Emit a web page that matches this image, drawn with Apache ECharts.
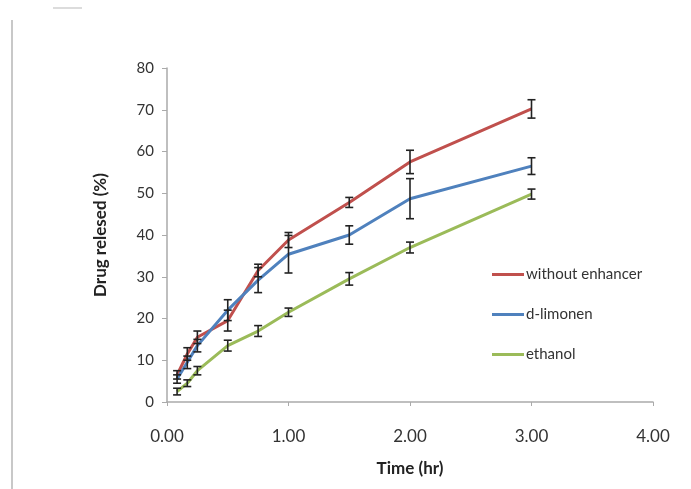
<!DOCTYPE html>
<html><head><meta charset="utf-8">
<script src="https://cdn.jsdelivr.net/npm/echarts@6/dist/echarts.min.js"></script>
<style>html,body{margin:0;padding:0;background:#fff}#c{width:691px;height:489px}</style>
</head><body><div id="c"></div>
<script>
const times = [0.083, 0.167, 0.25, 0.5, 0.75, 1.0, 1.5, 2.0, 3.0];
const seriesNames = ['without enhancer', 'd-limonen', 'ethanol'];
const withoutEnhancer = [6.5, 11.5, 15.5, 19.5, 31.5, 38.8, 47.8, 57.5, 70.2];
const dLimonen = [5.5, 9.5, 13.5, 22.0, 29.2, 35.4, 40.0, 48.7, 56.5];
const ethanol = [2.5, 4.5, 7.5, 13.5, 17.0, 21.5, 29.5, 37.0, 49.8];
const errWithout = [1.0, 1.5, 1.5, 2.5, 1.5, 1.8, 1.2, 2.8, 2.2];
const errLimonen = [1.0, 1.5, 1.5, 2.5, 3.0, 4.5, 2.2, 4.8, 2.0];
const errEthanol = [0.8, 0.8, 1.0, 1.3, 1.3, 1.0, 1.5, 1.3, 1.2];
const xTicks = ['0.00', '1.00', '2.00', '3.00', '4.00'];
const colors = ['#c0504d', '#4f81bd', '#9bbb59'];

const values = [withoutEnhancer, dLimonen, ethanol];
const errs = [errWithout, errLimonen, errEthanol];
const font = 'Lato, "Open Sans", sans-serif';

function errSeries(vals, err) {
  return {
    type: 'custom',
    silent: true,
    z: 5,
    data: times.map((t, i) => [t, vals[i] - err[i], vals[i] + err[i]]),
    renderItem: function (params, api) {
      const lo = api.coord([api.value(0), api.value(1)]);
      const hi = api.coord([api.value(0), api.value(2)]);
      const w = 4;
      const st = { stroke: '#222', lineWidth: 1.6 };
      return {
        type: 'group',
        children: [
          { type: 'line', shape: { x1: lo[0], y1: lo[1], x2: hi[0], y2: hi[1] }, style: st },
          { type: 'line', shape: { x1: lo[0] - w, y1: lo[1], x2: lo[0] + w, y2: lo[1] }, style: st },
          { type: 'line', shape: { x1: hi[0] - w, y1: hi[1], x2: hi[0] + w, y2: hi[1] }, style: st }
        ]
      };
    }
  };
}

const series = [];
values.forEach((v, k) => {
  series.push({
    name: seriesNames[k],
    type: 'line',
    data: times.map((t, i) => [t, v[i]]),
    showSymbol: false,
    symbol: 'none',
    lineStyle: { color: colors[k], width: 3 },
    itemStyle: { color: colors[k] },
    z: 3
  });
});
values.forEach((v, k) => series.push(errSeries(v, errs[k])));

const chart = echarts.init(document.getElementById('c'), null, { renderer: 'canvas' });
chart.setOption({
  animation: false,
  backgroundColor: '#fff',
  grid: { left: 167, right: 38, top: 68, bottom: 87 },
  legend: {
    orient: 'vertical',
    left: 487,
    top: 262,
    itemGap: 25,
    itemWidth: 32,
    itemHeight: 3,
    icon: 'rect',
    data: seriesNames,
    textStyle: { fontFamily: font, fontSize: 15, color: '#333', padding: [0, 0, 0, -3] }
  },
  xAxis: {
    type: 'value',
    min: 0, max: 4, interval: 1,
    name: 'Time (hr)',
    nameLocation: 'middle',
    nameGap: 58,
    nameTextStyle: { fontFamily: font, fontSize: 17, fontWeight: 'bold', color: '#222' },
    axisLine: { show: true, lineStyle: { color: '#aaa', width: 1.5 } },
    axisTick: { show: true, length: 4, lineStyle: { color: '#aaa' } },
    splitLine: { show: false },
    axisLabel: {
      fontFamily: font, fontSize: 17, color: '#333', margin: 26,
      formatter: function (v) { return xTicks[Math.round(v)]; }
    }
  },
  yAxis: {
    type: 'value',
    min: 0, max: 80, interval: 10,
    name: 'Drug relesed (%)',
    nameLocation: 'middle',
    nameGap: 58,
    nameTextStyle: { fontFamily: font, fontSize: 17, fontWeight: 'bold', color: '#222' },
    axisLine: { show: true, lineStyle: { color: '#aaa', width: 1.5 } },
    axisTick: { show: true, length: 5, lineStyle: { color: '#aaa' } },
    splitLine: { show: false },
    axisLabel: { fontFamily: font, fontSize: 15, color: '#333', margin: 13 }
  },
  graphic: [
    { type: 'line', shape: { x1: 12, y1: 20, x2: 12, y2: 489 }, style: { stroke: '#c8c8c8', lineWidth: 2 } },
    { type: 'line', shape: { x1: 53, y1: 8, x2: 82, y2: 8 }, style: { stroke: '#d0d0d0', lineWidth: 1.5 } }
  ],
  series: series
});
</script>
</body></html>
